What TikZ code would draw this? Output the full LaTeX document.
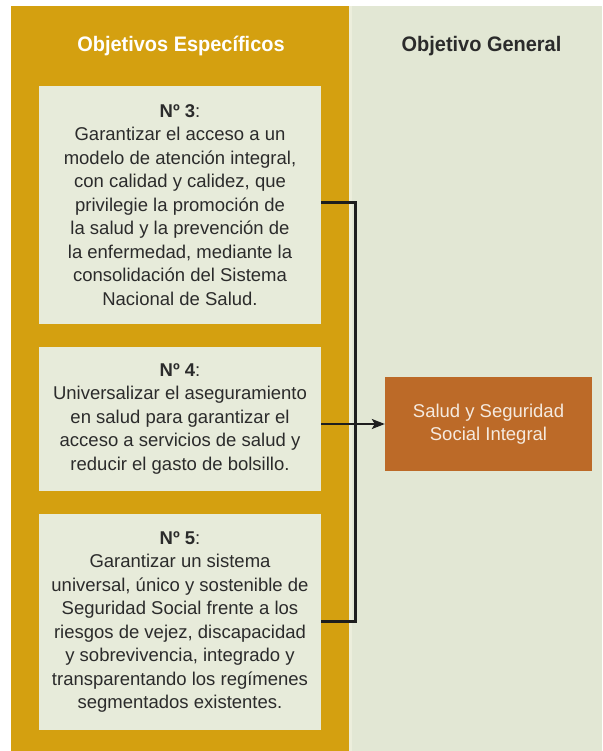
\documentclass[tikz,border=0pt]{standalone}
\usepackage{fontspec}
\setmainfont{Liberation Sans}
\newfontfamily\hdrfont[FakeStretch=0.95]{Liberation Sans}
\usetikzlibrary{arrows.meta}
\definecolor{gold}{HTML}{D4A010}
\definecolor{panel}{HTML}{E2E7D4}
\definecolor{boxfill}{HTML}{E7EBDA}
\definecolor{sepcol}{HTML}{ECEEDC}
\definecolor{orangebox}{HTML}{BC6A28}
\definecolor{orangetext}{HTML}{F5EADF}
\definecolor{txt}{HTML}{2B2B2B}
\definecolor{linecol}{HTML}{1E1E1E}
\tikzset{
  bodyfont/.style={font=\fontsize{18.5}{23.5}\selectfont},
  objbox/.style={bodyfont, fill=boxfill, text=txt, align=center, inner sep=0pt,
    minimum width=282pt},
  goalbox/.style={bodyfont, fill=orangebox, text=orangetext, align=center, inner sep=0pt,
    minimum width=207pt, minimum height=94pt},
  hdr/.style={font=\hdrfont\bfseries\fontsize{21}{25}\selectfont, anchor=base},
  bracket/.style={draw=linecol, line width=3pt, line join=miter},
  arrowline/.style={draw=linecol, line width=2pt, -{Stealth[length=13pt,width=10pt,inset=3pt]}}
}
\begin{document}
\begin{tikzpicture}[x=1pt,y=-1pt]
\useasboundingbox (0,0) rectangle (602,751);
\fill[white] (0,0) rectangle (602,751);
\fill[gold] (11,6) rectangle (349,751);
\fill[sepcol] (349,6) rectangle (351.5,751);
\fill[panel] (351.5,6) rectangle (602,751);

\node[hdr, text=white] (h1) at (181,52) {Objetivos Específicos};
\node[hdr, text=txt] (h2) at (481.5,52) {Objetivo General};

\node[objbox, minimum height=238pt] (b3) at (180,205) {\textbf{Nº 3}:\\
Garantizar el acceso a un\\
modelo de atención integral,\\
con calidad y calidez, que\\
privilegie la promoción de\\
la salud y la prevención de\\
la enfermedad, mediante la\\
consolidación del Sistema\\
Nacional de Salud.};

\node[objbox, minimum height=144pt] (b4) at (180,419) {\textbf{Nº 4}:\\
Universalizar el aseguramiento\\
en salud para garantizar el\\
acceso a servicios de salud y\\
reducir el gasto de bolsillo.};

\node[objbox, minimum height=216pt] (b5) at (180,622) {\textbf{Nº 5}:\\
Garantizar un sistema\\
universal, único y sostenible de\\
Seguridad Social frente a los\\
riesgos de vejez, discapacidad\\
y sobrevivencia, integrado y\\
transparentando los regímenes\\
segmentados existentes.};

\node[goalbox] (goal) at (488.5,424) {Salud y Seguridad\\Social Integral};

\coordinate (j3) at (355,203);
\coordinate (j5) at (355,621);
\draw[bracket] (b3.east |- j3) -- (j3) -- (j5) -- (b5.east |- j5);
\draw[arrowline] (b4.east |- goal.west) -- (goal.west);
\end{tikzpicture}
\end{document}
